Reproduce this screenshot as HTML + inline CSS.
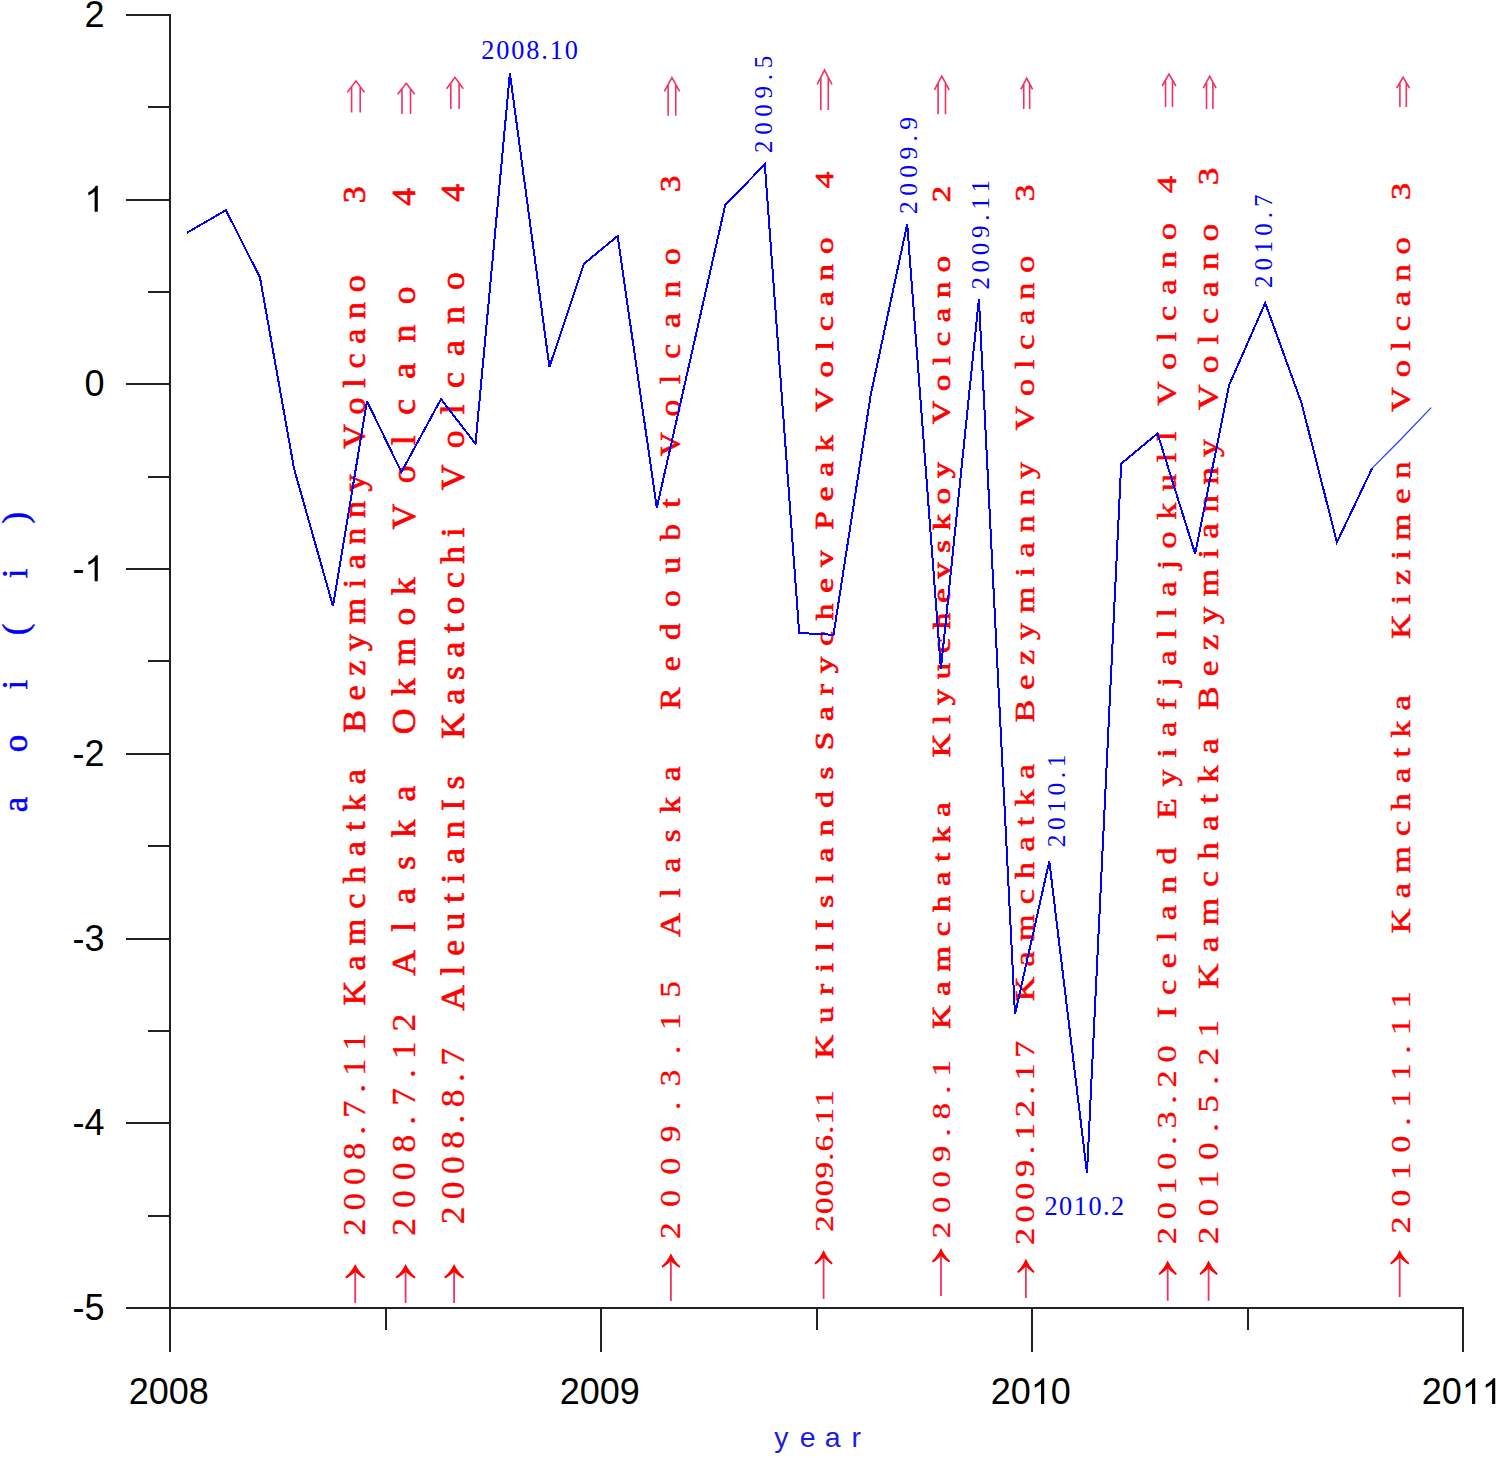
<!DOCTYPE html>
<html><head><meta charset="utf-8"><title>aoi chart</title>
<style>html,body{margin:0;padding:0;background:#fff;}svg{display:block;}text{font-kerning:none;}</style>
</head><body>
<svg width="1499" height="1458" viewBox="0 0 1499 1458">
<rect width="1499" height="1458" fill="#fff"/>
<g fill="#ff0000" stroke="#ff0000" stroke-width="1.0" stroke-linejoin="round" font-family="Liberation Serif, serif">
<text transform="translate(365 1235.6) rotate(-90) scale(1.08 1)" font-size="31.5" letter-spacing="7.65" stroke-width="0.3">2008.7.11</text>
<text transform="translate(365 1005.18) rotate(-90) scale(1.08 1)" font-size="31.5" letter-spacing="9.39" stroke-width="0.7">Kamchatka</text>
<text transform="translate(365 732.68) rotate(-90) scale(1.08 1)" font-size="31.5" letter-spacing="8.89" stroke-width="0.7">Bezymianny</text>
<text transform="translate(365 448.68) rotate(-90) scale(1.08 1)" font-size="31.5" letter-spacing="8.99" stroke-width="0.7">Volcano</text>
<text transform="translate(365 203.35) rotate(-90) scale(1.08 1)" font-size="31.5" letter-spacing="0" stroke-width="0.7">3</text>
<text transform="translate(415 1235.67) rotate(-90) scale(1.08 1)" font-size="33" letter-spacing="9.21" stroke-width="0.3">2008.7.12</text>
<text transform="translate(415 975.75) rotate(-90) scale(1.08 1)" font-size="33" letter-spacing="16.88" stroke-width="0.7">Alaska</text>
<text transform="translate(415 734.16) rotate(-90) scale(1.08 1)" font-size="33" letter-spacing="11.56" stroke-width="0.7">Okmok</text>
<text transform="translate(415 529.4) rotate(-90) scale(1.08 1)" font-size="33" letter-spacing="18.86" stroke-width="0.7">Volcano</text>
<text transform="translate(415 205.73) rotate(-90) scale(1.08 1)" font-size="33" letter-spacing="0" stroke-width="0.7">4</text>
<text transform="translate(464.3 1224.37) rotate(-90) scale(1.08 1)" font-size="33" letter-spacing="6.85" stroke-width="0.3">2008.8.7</text>
<text transform="translate(464.3 1010.75) rotate(-90) scale(1.08 1)" font-size="33" letter-spacing="8.93" stroke-width="0.7">AleutianIs</text>
<text transform="translate(464.3 738.93) rotate(-90) scale(1.08 1)" font-size="33" letter-spacing="8.01" stroke-width="0.7">Kasatochi</text>
<text transform="translate(464.3 490.3) rotate(-90) scale(1.08 1)" font-size="33" letter-spacing="15.05" stroke-width="0.7">Volcano</text>
<text transform="translate(464.3 201.63) rotate(-90) scale(1.08 1)" font-size="33" letter-spacing="0" stroke-width="0.7">4</text>
<text transform="translate(680 1238.97) rotate(-90) scale(1.15 1)" font-size="29" letter-spacing="13.52" stroke-width="0.3">2009.3.15</text>
<text transform="translate(680 937.03) rotate(-90) scale(1.15 1)" font-size="29" letter-spacing="13.54" stroke-width="0.6">Alaska</text>
<text transform="translate(680 709.76) rotate(-90) scale(1.15 1)" font-size="29" letter-spacing="14.24" stroke-width="0.6">Redoubt</text>
<text transform="translate(680 456.37) rotate(-90) scale(1.15 1)" font-size="29" letter-spacing="13.79" stroke-width="0.6">Volcano</text>
<text transform="translate(680 192.28) rotate(-90) scale(1.15 1)" font-size="29" letter-spacing="0" stroke-width="0.6">3</text>
<text transform="translate(833.3 1231.66) rotate(-90) scale(1.33 1)" font-size="25" letter-spacing="0.81" stroke-width="0.3">2009.6.11</text>
<text transform="translate(833.3 1058.86) rotate(-90) scale(1.33 1)" font-size="25" letter-spacing="8.75" stroke-width="0.7">KurilIslands</text>
<text transform="translate(833.3 750.32) rotate(-90) scale(1.33 1)" font-size="25" letter-spacing="8.19" stroke-width="0.7">Sarychev</text>
<text transform="translate(833.3 529.76) rotate(-90) scale(1.33 1)" font-size="25" letter-spacing="7.5" stroke-width="0.7">Peak</text>
<text transform="translate(833.3 411.87) rotate(-90) scale(1.33 1)" font-size="25" letter-spacing="7.77" stroke-width="0.7">Volcano</text>
<text transform="translate(833.3 188.23) rotate(-90) scale(1.33 1)" font-size="25" letter-spacing="0" stroke-width="0.7">4</text>
<text transform="translate(949.5 1238.33) rotate(-90) scale(1.33 1)" font-size="24.5" letter-spacing="6.89" stroke-width="0.3">2009.8.1</text>
<text transform="translate(949.5 1029.04) rotate(-90) scale(1.33 1)" font-size="24.5" letter-spacing="7.38" stroke-width="0.7">Kamchatka</text>
<text transform="translate(949.5 757.24) rotate(-90) scale(1.33 1)" font-size="24.5" letter-spacing="7.33" stroke-width="0.7">Klyuchevskoy</text>
<text transform="translate(949.5 424.27) rotate(-90) scale(1.33 1)" font-size="24.5" letter-spacing="7.28" stroke-width="0.7">Volcano</text>
<text transform="translate(949.5 202.21) rotate(-90) scale(1.33 1)" font-size="24.5" letter-spacing="0" stroke-width="0.7">2</text>
<text transform="translate(1034.3 1245.1) rotate(-90) scale(1.22 1)" font-size="28" letter-spacing="4.63" stroke-width="0.3">2009.12.17</text>
<text transform="translate(1034.3 1001.28) rotate(-90) scale(1.22 1)" font-size="28" letter-spacing="8.37" stroke-width="0.55">Kamchatka</text>
<text transform="translate(1034.3 722.38) rotate(-90) scale(1.22 1)" font-size="28" letter-spacing="8.01" stroke-width="0.55">Bezymianny</text>
<text transform="translate(1034.3 430.38) rotate(-90) scale(1.22 1)" font-size="28" letter-spacing="8.05" stroke-width="0.55">Volcano</text>
<text transform="translate(1034.3 201.39) rotate(-90) scale(1.22 1)" font-size="28" letter-spacing="0" stroke-width="0.55">3</text>
<text transform="translate(1175.8 1244.2) rotate(-90) scale(1.22 1)" font-size="28" letter-spacing="6.36" stroke-width="0.3">2010.3.20</text>
<text transform="translate(1175.8 1018.03) rotate(-90) scale(1.22 1)" font-size="28" letter-spacing="9.57" stroke-width="0.55">Iceland</text>
<text transform="translate(1175.8 819.08) rotate(-90) scale(1.22 1)" font-size="28" letter-spacing="9.57" stroke-width="0.55">Eyiafjallajokull</text>
<text transform="translate(1175.8 405.68) rotate(-90) scale(1.22 1)" font-size="28" letter-spacing="9.17" stroke-width="0.55">Volcano</text>
<text transform="translate(1175.8 193.06) rotate(-90) scale(1.22 1)" font-size="28" letter-spacing="0" stroke-width="0.55">4</text>
<text transform="translate(1218 1244.26) rotate(-90) scale(1.2 1)" font-size="29.5" letter-spacing="8.63" stroke-width="0.3">2010.5.21</text>
<text transform="translate(1218 989.02) rotate(-90) scale(1.2 1)" font-size="29.5" letter-spacing="9.32" stroke-width="0.55">Kamchatka</text>
<text transform="translate(1218 710.02) rotate(-90) scale(1.2 1)" font-size="29.5" letter-spacing="8.51" stroke-width="0.55">Bezymianny</text>
<text transform="translate(1218 409.9) rotate(-90) scale(1.2 1)" font-size="29.5" letter-spacing="9.2" stroke-width="0.55">Volcano</text>
<text transform="translate(1218 185.26) rotate(-90) scale(1.2 1)" font-size="29.5" letter-spacing="0" stroke-width="0.55">3</text>
<text transform="translate(1410 1233.61) rotate(-90) scale(1.3 1)" font-size="26.5" letter-spacing="7.48" stroke-width="0.3">2010.11.11</text>
<text transform="translate(1410 933.39) rotate(-90) scale(1.3 1)" font-size="26.5" letter-spacing="7.83" stroke-width="0.55">Kamchatka</text>
<text transform="translate(1410 638.99) rotate(-90) scale(1.3 1)" font-size="26.5" letter-spacing="7.56" stroke-width="0.55">Kizimen</text>
<text transform="translate(1410 411.89) rotate(-90) scale(1.3 1)" font-size="26.5" letter-spacing="7.43" stroke-width="0.55">Volcano</text>
<text transform="translate(1410 199.91) rotate(-90) scale(1.3 1)" font-size="26.5" letter-spacing="0" stroke-width="0.55">3</text>
</g>
<g stroke="#ff0000" fill="none" stroke-linecap="butt">
<path d="M355.2 1269V1303.1" stroke-width="1.8" stroke="#f3305f"/>
<path d="M355.2 1264Q359.2 1272.4 365.2 1277L364.2 1278.5Q357.7 1274.5 355.2 1271.7Q352.7 1274.5 346.2 1278.5L345.2 1277Q351.2 1272.4 355.2 1264Z" fill="#ff0000" stroke="none"/>
<path d="M405.6 1269V1303" stroke-width="1.8" stroke="#f3305f"/>
<path d="M405.6 1264Q409.6 1272.4 415.6 1277L414.6 1278.5Q408.1 1274.5 405.6 1271.7Q403.1 1274.5 396.6 1278.5L395.6 1277Q401.6 1272.4 405.6 1264Z" fill="#ff0000" stroke="none"/>
<path d="M454.1 1269V1303" stroke-width="1.8" stroke="#f3305f"/>
<path d="M454.1 1264Q458.1 1272.4 464.1 1277L463.1 1278.5Q456.6 1274.5 454.1 1271.7Q451.6 1274.5 445.1 1278.5L444.1 1277Q450.1 1272.4 454.1 1264Z" fill="#ff0000" stroke="none"/>
<path d="M670.9 1258.3V1300.9" stroke-width="1.8" stroke="#f3305f"/>
<path d="M670.9 1253.3Q674.66 1261.7 680.3 1266.3L679.3 1267.8Q673.25 1263.8 670.9 1261Q668.55 1263.8 662.5 1267.8L661.5 1266.3Q667.14 1261.7 670.9 1253.3Z" fill="#ff0000" stroke="none"/>
<path d="M823.6 1254.9V1298.9" stroke-width="1.8" stroke="#f3305f"/>
<path d="M823.6 1249.9Q827.24 1258.3 832.7 1262.9L831.7 1264.4Q825.88 1260.4 823.6 1257.6Q821.33 1260.4 815.5 1264.4L814.5 1262.9Q819.96 1258.3 823.6 1249.9Z" fill="#ff0000" stroke="none"/>
<path d="M941 1253V1296" stroke-width="1.8" stroke="#f3305f"/>
<path d="M941 1248Q944.64 1256.4 950.1 1261L949.1 1262.5Q943.27 1258.5 941 1255.7Q938.73 1258.5 932.9 1262.5L931.9 1261Q937.36 1256.4 941 1248Z" fill="#ff0000" stroke="none"/>
<path d="M1025.9 1263.5V1297.9" stroke-width="1.8" stroke="#f3305f"/>
<path d="M1025.9 1258.5Q1029.36 1266.9 1034.55 1271.5L1033.55 1273Q1028.06 1269 1025.9 1266.2Q1023.74 1269 1018.25 1273L1017.25 1271.5Q1022.44 1266.9 1025.9 1258.5Z" fill="#ff0000" stroke="none"/>
<path d="M1167.7 1265.5V1300.8" stroke-width="1.8" stroke="#f3305f"/>
<path d="M1167.7 1260.5Q1171.36 1268.9 1176.85 1273.5L1175.85 1275Q1169.99 1271 1167.7 1268.2Q1165.41 1271 1159.55 1275L1158.55 1273.5Q1164.04 1268.9 1167.7 1260.5Z" fill="#ff0000" stroke="none"/>
<path d="M1208.6 1265.5V1300.8" stroke-width="1.8" stroke="#f3305f"/>
<path d="M1208.6 1260.5Q1212.26 1268.9 1217.75 1273.5L1216.75 1275Q1210.89 1271 1208.6 1268.2Q1206.31 1271 1200.45 1275L1199.45 1273.5Q1204.94 1268.9 1208.6 1260.5Z" fill="#ff0000" stroke="none"/>
<path d="M1399.7 1254.9V1297" stroke-width="1.8" stroke="#f3305f"/>
<path d="M1399.7 1249.9Q1403.54 1258.3 1409.3 1262.9L1408.3 1264.4Q1402.1 1260.4 1399.7 1257.6Q1397.3 1260.4 1391.1 1264.4L1390.1 1262.9Q1395.86 1258.3 1399.7 1249.9Z" fill="#ff0000" stroke="none"/>
<path d="M347.3 92.37L355.9 81.1L364.5 92.37M351.6 86.73V112.4M360.2 86.73V112.4" stroke-width="1.6" stroke="#f3305f"/>
<path d="M397.7 94.35L406.25 83.3L414.8 94.35M401.98 88.83V114M410.52 88.83V114" stroke-width="1.6" stroke="#f3305f"/>
<path d="M446.6 88.75L454.95 77.3L463.3 88.75M450.78 83.02V109.1M459.12 83.02V109.1" stroke-width="1.6" stroke="#f3305f"/>
<path d="M664.3 91.38L671.95 77.7L679.6 91.38M668.12 84.54V115.7M675.77 84.54V115.7" stroke-width="1.6" stroke="#f3305f"/>
<path d="M817.1 84.5L824.55 70.1L832 84.5M820.82 77.3V110.1M828.27 77.3V110.1" stroke-width="1.6" stroke="#f3305f"/>
<path d="M934.4 89.88L941.8 76.2L949.2 89.88M938.1 83.04V114.2M945.5 83.04V114.2" stroke-width="1.6" stroke="#f3305f"/>
<path d="M1020.8 89.39L1026.7 78.3L1032.6 89.39M1023.75 83.84V109.1M1029.65 83.84V109.1" stroke-width="1.6" stroke="#f3305f"/>
<path d="M1162.1 86.01L1169 74.2L1175.9 86.01M1165.55 80.1V107M1172.45 80.1V107" stroke-width="1.6" stroke="#f3305f"/>
<path d="M1203.3 88.04L1209.7 76.2L1216.1 88.04M1206.5 82.12V109.1M1212.9 82.12V109.1" stroke-width="1.6" stroke="#f3305f"/>
<path d="M1396.7 87.99L1403.1 77.3L1409.5 87.99M1399.9 82.65V107M1406.3 82.65V107" stroke-width="1.6" stroke="#f3305f"/>
</g>
<g fill="#222" shape-rendering="crispEdges">
<rect x="169" y="14" width="2" height="1338"/>
<rect x="126" y="1307" width="1338" height="2"/>
<rect x="126" y="14" width="44" height="2"/>
<rect x="126" y="199" width="44" height="2"/>
<rect x="126" y="383" width="44" height="2"/>
<rect x="126" y="568" width="44" height="2"/>
<rect x="126" y="753" width="44" height="2"/>
<rect x="126" y="938" width="44" height="2"/>
<rect x="126" y="1122" width="44" height="2"/>
<rect x="126" y="1307" width="44" height="2"/>
<rect x="148" y="106" width="22" height="2"/>
<rect x="148" y="291" width="22" height="2"/>
<rect x="148" y="476" width="22" height="2"/>
<rect x="148" y="660" width="22" height="2"/>
<rect x="148" y="845" width="22" height="2"/>
<rect x="148" y="1030" width="22" height="2"/>
<rect x="148" y="1215" width="22" height="2"/>
<rect x="169" y="1308" width="2" height="44"/>
<rect x="385" y="1308" width="2" height="22"/>
<rect x="600" y="1308" width="2" height="44"/>
<rect x="816" y="1308" width="2" height="22"/>
<rect x="1031" y="1308" width="2" height="44"/>
<rect x="1247" y="1308" width="2" height="22"/>
<rect x="1462" y="1308" width="2" height="44"/>
</g>
<g fill="#000" font-family="Liberation Sans, sans-serif" font-size="36">
<text x="84.38" y="27">2</text>
<path d="M763 0L583 0L583 1147Q518 1085 412 1023Q307 961 223 930L223 1104Q374 1175 487 1276Q600 1377 647 1472L763 1472Z" transform="translate(84.38 211.71) scale(0.017578 -0.017578)"/>
<text x="84.38" y="396.43">0</text>
<text x="72.39" y="581.14">-</text>
<path d="M763 0L583 0L583 1147Q518 1085 412 1023Q307 961 223 930L223 1104Q374 1175 487 1276Q600 1377 647 1472L763 1472Z" transform="translate(84.38 581.14) scale(0.017578 -0.017578)"/>
<text x="72.39" y="765.86">-</text>
<text x="84.38" y="765.86">2</text>
<text x="72.39" y="950.57">-</text>
<text x="84.38" y="950.57">3</text>
<text x="72.39" y="1135.29">-</text>
<text x="84.38" y="1135.29">4</text>
<text x="72.39" y="1320">-</text>
<text x="84.38" y="1320">5</text>
<text x="128.76" y="1404">2</text>
<text x="148.78" y="1404">0</text>
<text x="168.8" y="1404">0</text>
<text x="188.82" y="1404">8</text>
<text x="559.76" y="1404">2</text>
<text x="579.78" y="1404">0</text>
<text x="599.8" y="1404">0</text>
<text x="619.82" y="1404">9</text>
<text x="990.76" y="1404">2</text>
<text x="1010.78" y="1404">0</text>
<path d="M763 0L583 0L583 1147Q518 1085 412 1023Q307 961 223 930L223 1104Q374 1175 487 1276Q600 1377 647 1472L763 1472Z" transform="translate(1030.8 1404) scale(0.017578 -0.017578)"/>
<text x="1050.82" y="1404">0</text>
<text x="1421.76" y="1404">2</text>
<text x="1441.78" y="1404">0</text>
<path d="M763 0L583 0L583 1147Q518 1085 412 1023Q307 961 223 930L223 1104Q374 1175 487 1276Q600 1377 647 1472L763 1472Z" transform="translate(1461.8 1404) scale(0.017578 -0.017578)"/>
<path d="M763 0L583 0L583 1147Q518 1085 412 1023Q307 961 223 930L223 1104Q374 1175 487 1276Q600 1377 647 1472L763 1472Z" transform="translate(1481.82 1404) scale(0.017578 -0.017578)"/>
</g>
<g fill="#1a1ae6" font-family="Liberation Sans, sans-serif" font-size="28.5">
<text x="774.27" y="1446.6">y</text>
<text x="799.7" y="1446.6">e</text>
<text x="824.72" y="1446.6">a</text>
<text x="851.39" y="1446.6">r</text>
</g>
<g fill="#0000ff" stroke="#0000ff" stroke-width="0.5" font-family="Liberation Serif, serif" font-size="35">
<text transform="translate(26.8 523.42) rotate(-90)">)</text>
<text transform="translate(26.8 578.3) rotate(-90)">i</text>
<text transform="translate(26.8 635.23) rotate(-90)">(</text>
<text transform="translate(26.8 689.4) rotate(-90)">i</text>
<text transform="translate(26.8 752.35) rotate(-90)">o</text>
<text transform="translate(26.8 812.34) rotate(-90)">a</text>
</g>
<polyline fill="none" stroke="#0000ff" stroke-width="2" stroke-linejoin="miter" stroke-miterlimit="3" shape-rendering="crispEdges" points="187,232.7 225.9,210.2 260,277.5 294,468.5 333,606.2 367,401.2 401.4,472.1 441,399.1 475.5,443.8 509.9,73.3 549.4,367 583.9,263.9 617.6,236 656.8,507.7 725.3,204.9 745.1,184.6 764.8,164.3 799.2,633 833.5,634.8 870.7,395 907.2,224 940.9,669 978.9,298.9 1015,1014.2 1049.3,861.2 1087,1173.1 1121.2,463.7 1157.5,433.5 1195.1,553.7 1229.2,384.9 1265.2,303 1301.6,403.3 1336.9,542.3 1372.2,468.1"/>
<polyline fill="none" stroke="#3344e0" stroke-width="1.3" points="1372.2,468.1 1400.2,440 1431.2,407.6"/>
<g fill="#0000ff" font-family="Liberation Serif, serif">
<text x="481.34" y="58.6" font-size="26.3" letter-spacing="1.85">2008.10</text>
<text x="1044.44" y="1214.9" font-size="26.3" letter-spacing="1.5">2010.2</text>
<text transform="translate(771.7 153.1) rotate(-90)" font-size="25" letter-spacing="5.73">2009.5</text>
<text transform="translate(916.8 213.92) rotate(-90)" font-size="25.5" letter-spacing="5.35">2009.9</text>
<text transform="translate(989.3 289.6) rotate(-90)" font-size="25" letter-spacing="4.71">2009.11</text>
<text transform="translate(1272 288) rotate(-90)" font-size="25" letter-spacing="4.93">2010.7</text>
<text transform="translate(1064.8 847.22) rotate(-90)" font-size="25.5" letter-spacing="4.51">2010.1</text>
</g>
</svg>
</body></html>
